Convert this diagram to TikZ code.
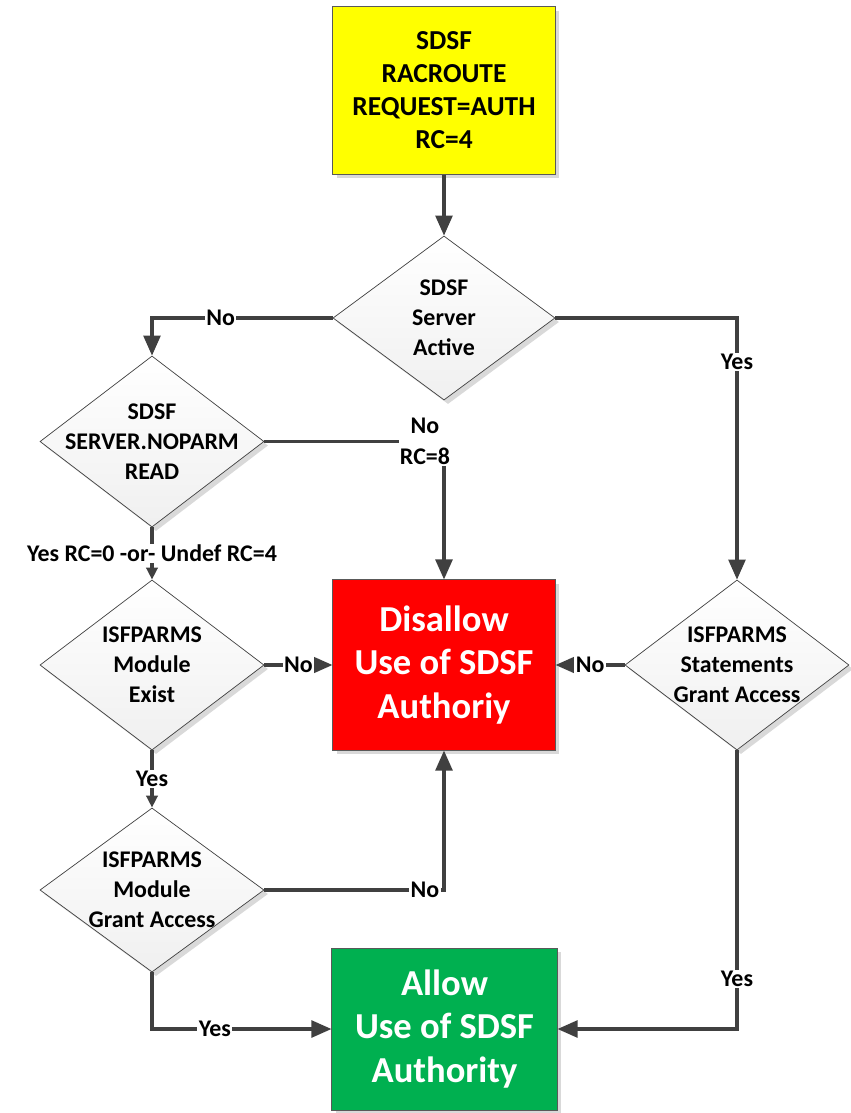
\documentclass[tikz,border=0pt]{standalone}
\usepackage{fontspec}
\setmainfont{Carlito}
\usetikzlibrary{arrows.meta, shapes.geometric, shadows}
\definecolor{grisoscuro}{HTML}{404040}
\definecolor{grisborde}{HTML}{595959}
\definecolor{amarillo}{HTML}{FFFF00}
\definecolor{rojo}{HTML}{FF0000}
\definecolor{verde}{HTML}{00B050}
\colorlet{colLinea}{grisoscuro}
\colorlet{colBorde}{grisborde}
\colorlet{colInicio}{amarillo}
\colorlet{colDenegar}{rojo}
\colorlet{colPermitir}{verde}
\tikzset{
  sombra/.style={drop shadow={shadow xshift=0.1cm, shadow yshift=-0.1cm,
    fill=black, opacity=0.15}},
  cajaBase/.style={
    draw=colBorde, line width=0.7pt, minimum width=5.55cm,
    align=center, inner sep=0pt, sombra
  },
  cajaInicio/.style={cajaBase, fill=colInicio,
    font=\bfseries\fontsize{19.5}{23.5}\selectfont},
  cajaDenegar/.style={cajaBase, fill=colDenegar, text=white,
    font=\bfseries\fontsize{26}{31}\selectfont},
  cajaPermitir/.style={cajaBase, fill=colPermitir, text=white,
    font=\bfseries\fontsize{26}{31}\selectfont},
  rombo/.style={diamond, draw=colLinea, line width=0.5pt,
    top color=white, bottom color=gray!12,
    minimum width=5.6cm, inner sep=0pt, sombra},
  textoRombo/.style={align=center, inner sep=0pt,
    font=\bfseries\fontsize{17}{21.3}\selectfont},
  flecha/.style={-{Triangle[length=0.5cm, width=0.42cm]}, line width=2.2pt, colLinea},
  flechaCorta/.style={-{Triangle[length=0.3cm, width=0.28cm]}, line width=2.2pt, colLinea},
  etiquetaFlecha/.style={fill=white, inner sep=1pt, align=center, text=black,
    font=\bfseries\fontsize{17}{22}\selectfont},
}
\begin{document}
\begin{tikzpicture}[x=0.025cm, y=-0.025cm]
  \useasboundingbox (0,0) rectangle (850,1113);

  % cajas
  \node[cajaInicio, minimum height=4.175cm] (inicio) at (444,90.5)
    {SDSF\\RACROUTE\\REQUEST=AUTH\\RC=4};
  \node[cajaDenegar, minimum height=4.25cm] (denegar) at (444,665)
    {Disallow\\Use of SDSF\\Authoriy};
  \node[cajaPermitir, minimum width=5.625cm, minimum height=4.05cm] (permitir) at (444.5,1029)
    {Allow\\Use of SDSF\\Authority};

  % rombos de decision
  \node[rombo, minimum width=5.55cm, minimum height=4.1cm,
    label={[textoRombo]center:SDSF\\Server\\Active}] (servidor) at (444,318) {};
  \node[rombo, minimum height=4.275cm,
    label={[textoRombo]center:SDSF\\SERVER.NOPARM\\READ}] (noparm) at (152,441.5) {};
  \node[rombo, minimum height=4.25cm,
    label={[textoRombo]center:ISFPARMS\\Module\\Exist}] (modExiste) at (152,665) {};
  \node[rombo, minimum height=4.1cm,
    label={[textoRombo]center:ISFPARMS\\Module\\Grant Access}] (modPermite) at (152,890) {};
  \node[rombo, minimum height=4.25cm,
    label={[textoRombo]center:ISFPARMS\\Statements\\Grant Access}] (sentencias) at (737,665) {};

  % conexiones
  \draw[flecha] (inicio) -- (servidor);
  \draw[flecha] (servidor.west) -| node[etiquetaFlecha, pos=0.31] {No} (noparm.north);
  \draw[flecha] (servidor.east) -| node[etiquetaFlecha, pos=0.584] {Yes} (sentencias.north);
  \draw[flecha] (noparm.east) -| node[etiquetaFlecha, pos=0.447] {No\\RC=8} (denegar.north);
  \draw[flechaCorta] (noparm.south) -- node[etiquetaFlecha] {Yes RC=0 -or- Undef RC=4} (modExiste.north);
  \draw[flecha] (modExiste.east) -- node[etiquetaFlecha] {No} (denegar.west);
  \draw[flechaCorta] (modExiste.south) -- node[etiquetaFlecha] {Yes} (modPermite.north);
  \draw[flecha] (modPermite.east) -| node[etiquetaFlecha, pos=0.447] {No} (denegar.south);
  \draw[flecha] (modPermite.south) |- node[etiquetaFlecha, pos=0.675] {Yes} (permitir.west);
  \draw[flecha] (sentencias.west) -- node[etiquetaFlecha] {No} (denegar.east);
  \draw[flecha] (sentencias.south) |- node[etiquetaFlecha, pos=0.41] {Yes} (permitir.east);
\end{tikzpicture}
\end{document}
